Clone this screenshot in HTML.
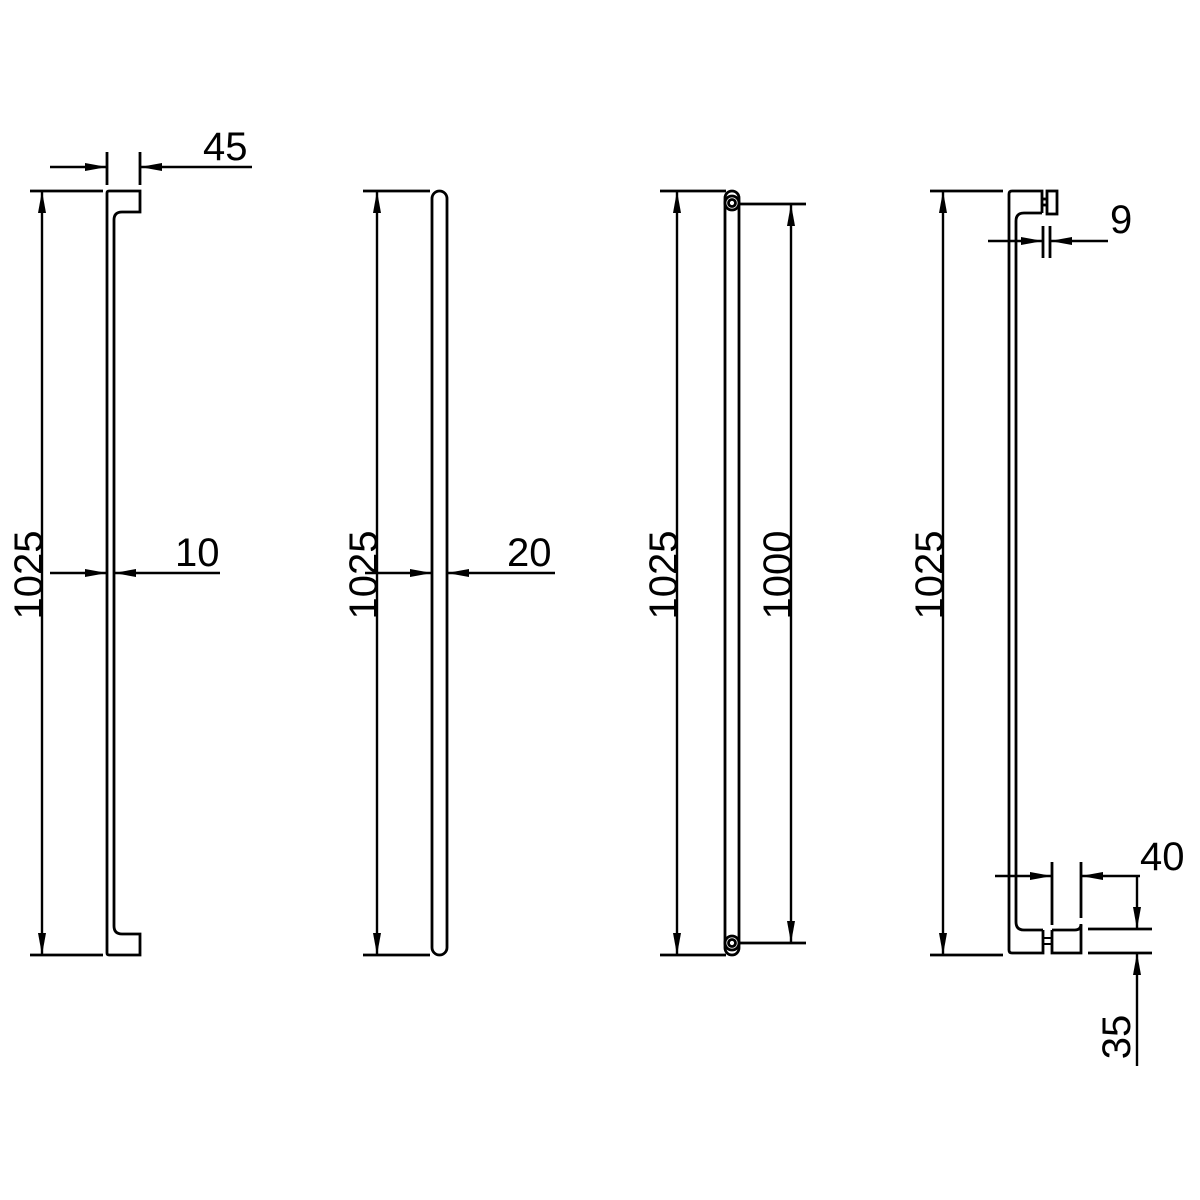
<!DOCTYPE html>
<html><head><meta charset="utf-8"><style>html,body{margin:0;padding:0;background:#fff}svg{display:block}</style></head>
<body>
<svg width="1200" height="1200" viewBox="0 0 1200 1200" xmlns="http://www.w3.org/2000/svg">
<defs>
<marker id="a" viewBox="0 0 22 8" refX="22" refY="4" markerWidth="22" markerHeight="8" markerUnits="userSpaceOnUse" orient="auto">
<path d="M0,0 L22,4 L0,8 z" fill="#000"/></marker>
</defs>
<g fill="none" stroke="#000" stroke-width="2.8">
<!-- Figure 1 -->
<path d="M107,193 L107,953 Q107,955 109,955 L140,955 L140,934 L122,934 Q114,934 114,926 L114,220 Q114,212 122,212 L140,212 L140,191 L109,191 Q107,191 107,193 Z"/>
<line x1="30" y1="191" x2="103" y2="191"/>
<line x1="30" y1="955" x2="103" y2="955"/>
<line x1="42" y1="575" x2="42" y2="191" marker-end="url(#a)" stroke-width="2.4"/>
<line x1="42" y1="575" x2="42" y2="955" marker-end="url(#a)" stroke-width="2.4"/>
<line x1="107" y1="152" x2="107" y2="185"/>
<line x1="140" y1="152" x2="140" y2="185"/>
<line x1="50" y1="167" x2="107" y2="167" marker-end="url(#a)" stroke-width="2.4"/>
<line x1="252" y1="167" x2="140" y2="167" marker-end="url(#a)" stroke-width="2.4"/>
<line x1="50" y1="573" x2="107" y2="573" marker-end="url(#a)" stroke-width="2.4"/>
<line x1="220" y1="573" x2="114" y2="573" marker-end="url(#a)" stroke-width="2.4"/>
<!-- Figure 2 -->
<rect x="432" y="191" width="15" height="764" rx="7.5"/>
<line x1="363" y1="191" x2="430" y2="191"/>
<line x1="363" y1="955" x2="430" y2="955"/>
<line x1="377" y1="575" x2="377" y2="191" marker-end="url(#a)" stroke-width="2.4"/>
<line x1="377" y1="575" x2="377" y2="955" marker-end="url(#a)" stroke-width="2.4"/>
<line x1="365" y1="573" x2="432" y2="573" marker-end="url(#a)" stroke-width="2.4"/>
<line x1="555" y1="573" x2="447" y2="573" marker-end="url(#a)" stroke-width="2.4"/>
<!-- Figure 3 -->
<rect x="725" y="191" width="14" height="764" rx="7"/>
<circle cx="732" cy="203" r="7" fill="#fff"/>
<circle cx="732" cy="203" r="3.5"/>
<circle cx="732" cy="943" r="7" fill="#fff"/>
<circle cx="732" cy="943" r="3.5"/>
<line x1="660" y1="191" x2="726" y2="191"/>
<line x1="660" y1="955" x2="726" y2="955"/>
<line x1="740" y1="204" x2="806" y2="204"/>
<line x1="740" y1="943" x2="806" y2="943"/>
<line x1="677" y1="575" x2="677" y2="191" marker-end="url(#a)" stroke-width="2.4"/>
<line x1="677" y1="575" x2="677" y2="955" marker-end="url(#a)" stroke-width="2.4"/>
<line x1="791" y1="575" x2="791" y2="204" marker-end="url(#a)" stroke-width="2.4"/>
<line x1="791" y1="575" x2="791" y2="943" marker-end="url(#a)" stroke-width="2.4"/>
<!-- Figure 4 -->
<path d="M1042,213 L1042,191 L1012,191 Q1009,191 1009,194 L1009,950 Q1009,953 1012,953 L1043,953 L1043,930"/>
<path d="M1042,213 L1024,213 Q1016,213 1016,221 L1016,922 Q1016,930 1024,930 L1043,930"/>
<line x1="1042" y1="199" x2="1047" y2="199"/>
<line x1="1042" y1="205" x2="1047" y2="205"/>
<rect x="1047" y="191" width="10" height="23"/>
<path d="M1052,930 L1052,953 L1081,953 L1081,925"/>
<path d="M1052,930 L1075,930 Q1081,930 1081,924"/>
<line x1="1043" y1="938" x2="1052" y2="938" stroke-width="2"/>
<line x1="1043" y1="944" x2="1052" y2="944" stroke-width="2"/>
<line x1="930" y1="191" x2="1003" y2="191"/>
<line x1="930" y1="955" x2="1003" y2="955"/>
<line x1="943" y1="575" x2="943" y2="191" marker-end="url(#a)" stroke-width="2.4"/>
<line x1="943" y1="575" x2="943" y2="955" marker-end="url(#a)" stroke-width="2.4"/>
<line x1="1043" y1="226" x2="1043" y2="258"/>
<line x1="1050" y1="226" x2="1050" y2="258"/>
<line x1="988" y1="241" x2="1043" y2="241" marker-end="url(#a)" stroke-width="2.4"/>
<line x1="1108" y1="241" x2="1050" y2="241" marker-end="url(#a)" stroke-width="2.4"/>
<line x1="1052" y1="862" x2="1052" y2="925"/>
<line x1="1081" y1="862" x2="1081" y2="918"/>
<line x1="995" y1="876" x2="1052" y2="876" marker-end="url(#a)" stroke-width="2.4"/>
<line x1="1140" y1="876" x2="1081" y2="876" marker-end="url(#a)" stroke-width="2.4"/>
<line x1="1088" y1="929" x2="1152" y2="929"/>
<line x1="1088" y1="953" x2="1152" y2="953"/>
<line x1="1137" y1="876" x2="1137" y2="929" marker-end="url(#a)" stroke-width="2.4"/>
<line x1="1137" y1="1066" x2="1137" y2="953" marker-end="url(#a)" stroke-width="2.4"/>
</g>
<g font-family="Liberation Sans, sans-serif" font-size="40" fill="#000">
<text x="203" y="160">45</text>
<text x="175" y="566">10</text>
<text x="507" y="566">20</text>
<text x="1110" y="233">9</text>
<text x="1140" y="870">40</text>
<text transform="translate(42,575) rotate(-90)" text-anchor="middle">1025</text>
<text transform="translate(377,575) rotate(-90)" text-anchor="middle">1025</text>
<text transform="translate(677,575) rotate(-90)" text-anchor="middle">1025</text>
<text transform="translate(791,575) rotate(-90)" text-anchor="middle">1000</text>
<text transform="translate(943,575) rotate(-90)" text-anchor="middle">1025</text>
<text transform="translate(1130,1037) rotate(-90)" text-anchor="middle">35</text>
</g>
</svg>
</body></html>
